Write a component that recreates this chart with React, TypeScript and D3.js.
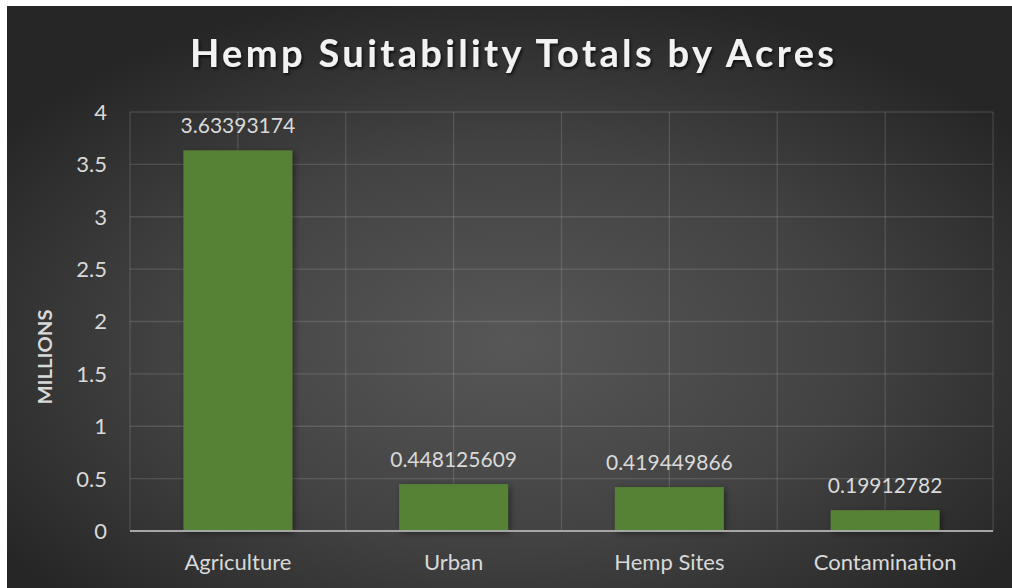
import React from "react";
import * as d3 from "d3";

const categories: string[] = ["Agriculture", "Urban", "Hemp Sites", "Contamination"];
const acresMillions: number[] = [3.63393174, 0.448125609, 0.419449866, 0.19912782];
const valueLabels: string[] = ["3.63393174", "0.448125609", "0.419449866", "0.19912782"];
const yTicks: number[] = [0, 0.5, 1, 1.5, 2, 2.5, 3, 3.5, 4];

const W = 1012;
const H = 588;
const frame = { x: 7, y: 6 };
const plot = { left: 130, right: 993, top: 112, bottom: 531 };
const FONT = "Lato, 'Open Sans', sans-serif";

export default function App() {
  const x = d3
    .scaleBand<string>()
    .domain(categories)
    .range([plot.left, plot.right])
    .paddingInner(0.495)
    .paddingOuter(0.2475);
  const y = d3.scaleLinear().domain([0, 4]).range([plot.bottom, plot.top]);

  const step = x.step();
  // vertical gridlines at each category boundary and centre
  const vLines: number[] = [];
  for (let i = 0; i <= categories.length * 2; i++) {
    vLines.push(plot.left + (i * step) / 2);
  }

  return (
    <div style={{ position: "absolute", left: 0, top: 0, width: W, height: H }}>
      <svg width={W} height={H} style={{ display: "block" }}>
        <defs>
          <radialGradient id="bg" cx="50%" cy="58%" r="62%">
            <stop offset="0%" stopColor="#575757" />
            <stop offset="55%" stopColor="#424242" />
            <stop offset="100%" stopColor="#262626" />
          </radialGradient>
          <filter id="barShadow" x="-20%" y="-20%" width="140%" height="140%">
            <feDropShadow dx="2" dy="2" stdDeviation="3" floodColor="#000" floodOpacity="0.45" />
          </filter>
          <filter id="titleShadow" x="-5%" y="-30%" width="110%" height="160%">
            <feDropShadow dx="1.5" dy="2" stdDeviation="1.5" floodColor="#000" floodOpacity="0.7" />
          </filter>
        </defs>
        <rect x={0} y={0} width={W} height={H} fill="#ffffff" />
        <rect x={frame.x} y={frame.y} width={W - frame.x} height={H - frame.y} fill="url(#bg)" />

        {/* gridlines */}
        <g stroke="#ffffff" strokeOpacity={0.13} strokeWidth={1.3}>
          {yTicks.map((t) => (
            <line key={"h" + t} x1={plot.left} x2={plot.right} y1={y(t)} y2={y(t)} />
          ))}
          {vLines.map((v, i) => (
            <line key={"v" + i} x1={v} x2={v} y1={plot.top} y2={plot.bottom} />
          ))}
        </g>

        {/* bars */}
        <g filter="url(#barShadow)">
          {categories.map((c, i) => (
            <rect
              key={c}
              x={x(c)}
              y={y(acresMillions[i])}
              width={x.bandwidth()}
              height={y(0) - y(acresMillions[i])}
              fill="#548235"
            />
          ))}
        </g>

        {/* baseline axis */}
        <line
          x1={plot.left}
          x2={plot.right}
          y1={y(0)}
          y2={y(0)}
          stroke="#a6a6a6"
          strokeWidth={2.2}
        />

        {/* data labels */}
        <g fill="#d9d9d9" fontFamily={FONT} fontSize={21} textAnchor="middle">
          {categories.map((c, i) => (
            <text key={c} x={(x(c) as number) + x.bandwidth() / 2} y={y(acresMillions[i]) - 17.5}>
              {valueLabels[i]}
            </text>
          ))}
        </g>

        {/* y tick labels */}
        <g fill="#d9d9d9" fontFamily={FONT} fontSize={22} textAnchor="end">
          {yTicks.map((t) => (
            <text key={t} x={107} y={y(t)} dy="0.36em">
              {d3.format("")(t)}
            </text>
          ))}
        </g>

        {/* category labels */}
        <g fill="#d9d9d9" fontFamily={FONT} fontSize={22} textAnchor="middle">
          {categories.map((c) => (
            <text key={c} x={(x(c) as number) + x.bandwidth() / 2} y={562} dy="0.36em">
              {c}
            </text>
          ))}
        </g>

        {/* axis title */}
        <text
          transform="translate(52,357) rotate(-90)"
          fill="#d9d9d9"
          fontFamily={FONT}
          fontWeight={700}
          fontSize={18}
          textAnchor="middle"
          textLength={95}
          lengthAdjust="spacingAndGlyphs"
        >
          MILLIONS
        </text>

        {/* chart title */}
        <text
          x={512}
          y={67}
          fill="#f2f2f2"
          fontFamily={FONT}
          fontWeight={700}
          fontSize={38}
          textAnchor="middle"
          textLength={644}
          lengthAdjust="spacing"
          filter="url(#titleShadow)"
        >
          Hemp Suitability Totals by Acres
        </text>
      </svg>
    </div>
  );
}
